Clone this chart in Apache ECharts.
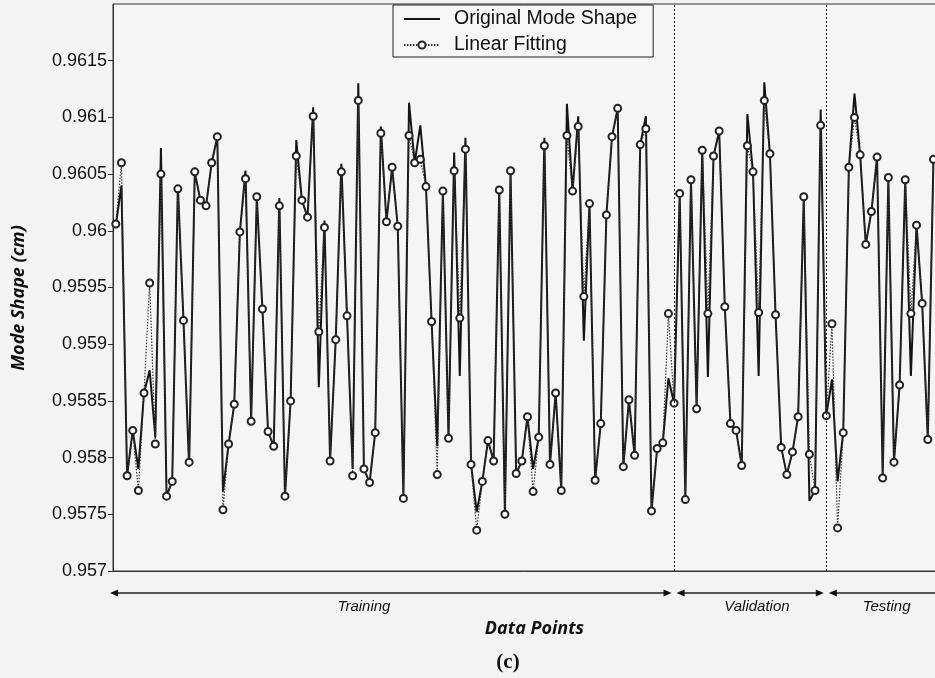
<!DOCTYPE html>
<html>
<head>
<meta charset="utf-8">
<title>Mode Shape - Linear Fitting</title>
<script src="https://cdn.jsdelivr.net/npm/echarts@6/dist/echarts.min.js"></script>
<style>
  html, body { margin: 0; padding: 0; background: #f3f3f3; }
  #chart { width: 935px; height: 678px; }
</style>
</head>
<body>
<div id="chart"></div>
<script>
// Sample index of every data point (1-based)
const pointIndex = Array.from({ length: 146 }, (_, i) => i + 1);

// Linear fitting output (cm)
const fitValues = [
  0.96006, 0.96060, 0.95784, 0.95824, 0.95771, 0.95857, 0.95954, 0.95812, 0.96050, 0.95766,
  0.95779, 0.96037, 0.95921, 0.95796, 0.96052, 0.96027, 0.96022, 0.96060, 0.96083, 0.95754,
  0.95812, 0.95847, 0.95999, 0.96046, 0.95832, 0.96030, 0.95931, 0.95823, 0.95810, 0.96022,
  0.95766, 0.95850, 0.96066, 0.96027, 0.96012, 0.96101, 0.95911, 0.96003, 0.95797, 0.95904,
  0.96052, 0.95925, 0.95784, 0.96115, 0.95790, 0.95778, 0.95822, 0.96086, 0.96008, 0.96056,
  0.96004, 0.95764, 0.96084, 0.96060, 0.96063, 0.96039, 0.95920, 0.95785, 0.96035, 0.95817,
  0.96053, 0.95923, 0.96072, 0.95794, 0.95736, 0.95779, 0.95815, 0.95797, 0.96036, 0.95750,
  0.96053, 0.95786, 0.95797, 0.95836, 0.95770, 0.95818, 0.96075, 0.95794, 0.95857, 0.95771,
  0.96084, 0.96035, 0.96092, 0.95942, 0.96024, 0.95780, 0.95830, 0.96014, 0.96083, 0.96108,
  0.95792, 0.95851, 0.95802, 0.96076, 0.96090, 0.95753, 0.95808, 0.95813, 0.95927, 0.95848,
  0.96033, 0.95763, 0.96045, 0.95843, 0.96071, 0.95927, 0.96066, 0.96088, 0.95933, 0.95830,
  0.95824, 0.95793, 0.96075, 0.96052, 0.95928, 0.96115, 0.96068, 0.95926, 0.95809, 0.95785,
  0.95805, 0.95836, 0.96030, 0.95803, 0.95771, 0.96093, 0.95837, 0.95918, 0.95738, 0.95822,
  0.96056, 0.96100, 0.96067, 0.95988, 0.96017, 0.96065, 0.95782, 0.96047, 0.95796, 0.95864,
  0.96045, 0.95927, 0.96005, 0.95936, 0.95816, 0.96063
];

// Original mode shape (cm)
const originalValues = [
  0.96005, 0.96040, 0.95784, 0.95824, 0.95790, 0.95857, 0.95877, 0.95818, 0.96073, 0.95766,
  0.95779, 0.96040, 0.95921, 0.95792, 0.96052, 0.96027, 0.96022, 0.96060, 0.96083, 0.95770,
  0.95812, 0.95847, 0.95999, 0.96053, 0.95832, 0.96030, 0.95931, 0.95823, 0.95810, 0.96029,
  0.95766, 0.95850, 0.96080, 0.96027, 0.96012, 0.96109, 0.95862, 0.96009, 0.95797, 0.95904,
  0.96059, 0.95925, 0.95790, 0.96130, 0.95790, 0.95778, 0.95822, 0.96092, 0.96008, 0.96056,
  0.96004, 0.95764, 0.96113, 0.96060, 0.96093, 0.96039, 0.95920, 0.95810, 0.96035, 0.95817,
  0.96069, 0.95872, 0.96082, 0.95794, 0.95752, 0.95779, 0.95815, 0.95797, 0.96036, 0.95750,
  0.96053, 0.95786, 0.95797, 0.95836, 0.95790, 0.95818, 0.96082, 0.95794, 0.95857, 0.95771,
  0.96112, 0.96035, 0.96101, 0.95903, 0.96024, 0.95780, 0.95830, 0.96014, 0.96083, 0.96108,
  0.95792, 0.95851, 0.95802, 0.96076, 0.96101, 0.95753, 0.95808, 0.95813, 0.95870, 0.95848,
  0.96033, 0.95763, 0.96045, 0.95843, 0.96071, 0.95871, 0.96066, 0.96088, 0.95933, 0.95830,
  0.95824, 0.95793, 0.96103, 0.96052, 0.95872, 0.96131, 0.96068, 0.95926, 0.95809, 0.95785,
  0.95805, 0.95836, 0.96030, 0.95762, 0.95771, 0.96107, 0.95837, 0.95869, 0.95779, 0.95822,
  0.96056, 0.96121, 0.96067, 0.95988, 0.96017, 0.96065, 0.95782, 0.96047, 0.95796, 0.95864,
  0.96045, 0.95872, 0.96005, 0.95936, 0.95816, 0.96063
];

// Data-set partitions: start / end index of each part
const partNames = ['Training', 'Validation', 'Testing'];
const partBounds = [0.5, 100, 127, 150];
// Where each part's caption sits along the index axis
const partLabelAt = [45, 114.7, 137.7];

// Y-axis range and step
const yMin = 0.957, yMax = 0.962, yStep = 0.0005;

const chart = echarts.init(document.getElementById('chart'), null, { renderer: 'canvas' });

const ink = '#151515';

chart.setOption({
  backgroundColor: '#f3f3f3',
  animation: false,
  grid: {
    left: 113, top: 4, right: -21, bottom: 107,
    outerBoundsMode: 'none',
    containLabel: false,
    show: true, borderColor: '#333', borderWidth: 1, backgroundColor: '#f5f5f5'
  },
  legend: {
    orient: 'vertical',
    left: 393, top: 5,
    padding: [4, 16, 2, 10],
    itemGap: 6,
    itemWidth: 36, itemHeight: 9,
    borderColor: '#222', borderWidth: 1,
    backgroundColor: '#f6f6f6',
    textStyle: { fontFamily: 'Liberation Sans, Arial, sans-serif', fontSize: 19.5, color: '#111', padding: [0, 0, 0, 9] },
    data: [
      { name: 'Original Mode Shape', itemStyle: { color: 'rgba(0,0,0,0)', borderWidth: 0, opacity: 0 } },
      { name: 'Linear Fitting' }
    ]
  },
  xAxis: {
    type: 'value',
    min: partBounds[0], max: partBounds[3],
    name: 'Data Points',
    nameLocation: 'middle',
    nameGap: 49,
    nameTextStyle: { fontFamily: 'Open Sans, DejaVu Sans, sans-serif', fontWeight: 'bold', fontStyle: 'italic', fontSize: 18, color: '#111' },
    axisLine: { show: true, lineStyle: { color: '#333', width: 1 } },
    axisTick: { show: false },
    axisLabel: { show: false },
    splitLine: { show: false }
  },
  yAxis: {
    type: 'value',
    min: yMin, max: yMax, interval: yStep,
    axisLine: { show: true, lineStyle: { color: '#333', width: 1 } },
    axisTick: { show: true, inside: false, length: 5, lineStyle: { color: '#333' } },
    axisLabel: {
      showMaxLabel: false,
      margin: 6,
      fontFamily: 'Liberation Sans, Arial, sans-serif',
      fontSize: 18, color: '#111',
      formatter: v => String(+v.toFixed(4))
    },
    splitLine: { show: false }
  },
  series: [
    {
      name: 'Original Mode Shape',
      type: 'line',
      data: pointIndex.map((x, i) => [x, originalValues[i]]),
      showSymbol: false,
      symbol: 'none',
      lineStyle: { color: ink, width: 2 },
      itemStyle: { color: ink },
      z: 3,
      markLine: {
        silent: true,
        symbol: 'none',
        label: { show: false },
        lineStyle: { color: '#222', width: 1, type: [2, 2] },
        data: [{ xAxis: partBounds[1] }, { xAxis: partBounds[2] }]
      }
    },
    {
      name: 'Linear Fitting',
      type: 'line',
      data: pointIndex.map((x, i) => [x, fitValues[i]]),
      symbol: 'emptyCircle',
      symbolSize: 7,
      lineStyle: { color: '#333', width: 1.2, type: [1.5, 1.5] },
      itemStyle: { color: '#222', borderWidth: 1.3 },
      z: 4
    }
  ]
});

// Annotations beneath the axis: double-headed arrows marking each partition
function drawPartitions() {
  const arrowY = 593;
  const textY = 607;
  const head = 8, half = 3.5;
  const elements = [];
  const px = v => chart.convertToPixel({ gridIndex: 0 }, [v, yMin])[0];
  for (let k = 0; k < partNames.length; k++) {
    const x0 = px(partBounds[k]) + (k === 0 ? -3 : 2.5);
    const x1 = px(partBounds[k + 1]) - (k === partNames.length - 1 ? -30 : 2.5);
    elements.push({
      type: 'line', silent: true,
      shape: { x1: x0 + head - 1, y1: arrowY, x2: x1 - head + 1, y2: arrowY },
      style: { stroke: '#222', lineWidth: 1.4 }
    });
    elements.push({
      type: 'polygon', silent: true,
      shape: { points: [[x0, arrowY], [x0 + head, arrowY - half], [x0 + head, arrowY + half]] },
      style: { fill: '#111' }
    });
    elements.push({
      type: 'polygon', silent: true,
      shape: { points: [[x1, arrowY], [x1 - head, arrowY - half], [x1 - head, arrowY + half]] },
      style: { fill: '#111' }
    });
    elements.push({
      type: 'text', silent: true,
      x: px(partLabelAt[k]), y: textY,
      style: {
        text: partNames[k],
        fill: '#111',
        font: 'italic 15px "Liberation Sans", Arial, sans-serif',
        align: 'center', verticalAlign: 'middle'
      }
    });
  }
  // Y-axis title
  elements.push({
    type: 'text', silent: true,
    x: 19, y: 298, rotation: Math.PI / 2,
    style: {
      text: 'Mode Shape (cm)',
      fill: '#111',
      font: 'italic bold 18px "Open Sans", "DejaVu Sans", sans-serif',
      align: 'center', verticalAlign: 'middle'
    }
  });
  // Panel tag
  elements.push({
    type: 'text', silent: true,
    x: 508, y: 663,
    style: {
      text: '(c)',
      fill: '#111',
      font: 'bold 21px "Liberation Serif", "DejaVu Serif", serif',
      align: 'center', verticalAlign: 'middle'
    }
  });
  chart.setOption({ graphic: { elements } });
}
drawPartitions();
</script>
</body>
</html>
